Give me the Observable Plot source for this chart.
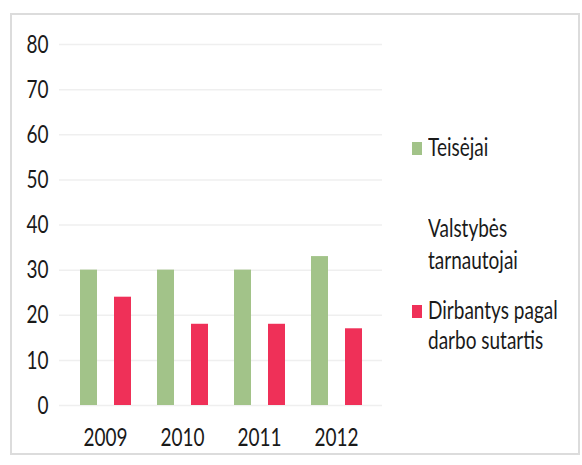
<!DOCTYPE html>
<html>
<head>
<meta charset="utf-8">
<script src="https://cdn.jsdelivr.net/npm/d3@7"></script>
<script src="https://cdn.jsdelivr.net/npm/@observablehq/plot@0.6"></script>
<style>
  html, body { margin: 0; padding: 0; background: #fff; }
  #wrap { position: relative; width: 582px; height: 465px; overflow: hidden; background: #fff; font-family: Lato, "Open Sans", sans-serif; }
  #frame { position: absolute; left: 10px; top: 13px; width: 566px; height: 438px; border: 2px solid #dcdcdc; pointer-events: none; }
  .layer { position: absolute; left: 0; top: 0; }
  #legend { position: absolute; left: 412px; top: 0; width: 166px; height: 465px; overflow: hidden; color: #1a1a1a; font-size: 19px; }
  .item { position: absolute; left: 0; display: flex; align-items: flex-start; }
  .sw { width: 10px; height: 13px; margin-right: 6px; flex: none; }
  .lbl { white-space: nowrap; }
  .ln { display: block; transform: scaleY(1.28); transform-origin: 50% 50%; }
</style>
</head>
<body>
<div id="wrap">
  <div id="grid" class="layer"></div>
  <div id="chart" class="layer"></div>
  <div id="legend"></div>
  <div id="frame"></div>
</div>
<script>
const years = ["2009", "2010", "2011", "2012"];
const series = ["Teisėjai", "Valstybės tarnautojai", "Dirbantys pagal darbo sutartis"];
const legendLines = [["Teisėjai"], ["Valstybės", "tarnautojai"], ["Dirbantys pagal", "darbo sutartis"]];
const teisejai = [30, 30, 30, 33];
const valstybesTarnautojai = [null, null, null, null];
const dirbantys = [24, 18, 18, 17];
const yTicks = [0, 10, 20, 30, 40, 50, 60, 70, 80];
const colors = ["#a2c389", "none", "#ef3058"];

const valuesBySeries = [teisejai, valstybesTarnautojai, dirbantys];
const data = [];
years.forEach((yr, i) => {
  series.forEach((s, j) => {
    const v = valuesBySeries[j][i];
    if (v != null) data.push({year: yr, series: s, value: v});
  });
});

const common = {
  width: 582,
  height: 465,
  marginTop: 44,
  marginBottom: 60,
  marginLeft: 59,
  marginRight: 200,
  style: {fontFamily: "Lato, 'Open Sans', sans-serif", fontSize: "19px", color: "#1a1a1a", background: "transparent"}
};

// Background layer: gridlines and y axis (unfaceted, full width)
const grid = Plot.plot({
  ...common,
  y: {domain: [0, 80], ticks: yTicks, tickSize: 0, tickPadding: 11, label: null},
  marks: [Plot.ruleY(yTicks, {stroke: "#efefef", strokeWidth: 1.5})]
});
document.getElementById("grid").appendChild(grid);

// Bars layer: grouped by year
const chart = Plot.plot({
  ...common,
  y: {domain: [0, 80], axis: null},
  fx: {domain: years, paddingInner: 0.32, paddingOuter: 0.25, tickSize: 0, tickPadding: 25, label: null},
  x: {domain: series, padding: 0, axis: null},
  color: {domain: series, range: colors},
  marks: [
    Plot.barY(data, {fx: "year", x: "series", y: "value", fill: "series"})
  ]
});
document.getElementById("chart").appendChild(chart);

// Stretch glyphs vertically (about each label's own centre) like the reference rendering
function stretchText(svg, k) {
  svg.querySelectorAll("text").forEach(el => {
    const b = el.getBBox();
    const cy = b.y + b.height / 2;
    const t = el.getAttribute("transform") || "";
    el.setAttribute("transform", `${t} translate(0,${cy}) scale(1,${k}) translate(0,${-cy})`.trim());
  });
}
stretchText(grid, 1.28);
stretchText(chart, 1.28);

// Legend (HTML)
const legendTops = [131, 212, 295];
const lineHeights = [32, 32, 30];
const legend = document.getElementById("legend");
series.forEach((s, j) => {
  const item = document.createElement("div");
  item.className = "item";
  item.style.top = legendTops[j] + "px";
  item.style.lineHeight = lineHeights[j] + "px";
  const sw = document.createElement("div");
  sw.className = "sw";
  sw.style.marginTop = ((lineHeights[j] - 13) / 2 + 1) + "px";
  sw.style.background = colors[j] === "none" ? "transparent" : colors[j];
  const lbl = document.createElement("div");
  lbl.className = "lbl";
  legendLines[j].forEach(line => {
    const sp = document.createElement("span");
    sp.className = "ln";
    sp.textContent = line;
    lbl.appendChild(sp);
  });
  item.appendChild(sw);
  item.appendChild(lbl);
  legend.appendChild(item);
});
</script>
</body>
</html>
